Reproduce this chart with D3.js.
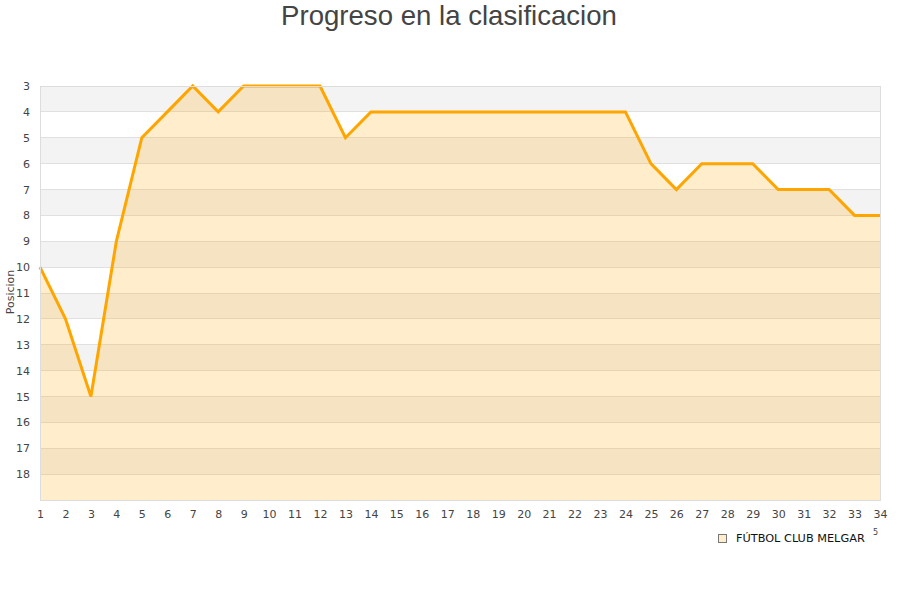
<!DOCTYPE html>
<html><head><meta charset="utf-8">
<script src="https://cdn.jsdelivr.net/npm/d3@7"></script>
<style>body{margin:0;background:#fff}</style>
</head><body><svg id="c" width="900" height="600"></svg>
<script>
const title = "Progreso en la clasificacion";
const yLabel = "Posicion";
const seriesName = "FÚTBOL CLUB MELGAR";
const jornadas = d3.range(1, 35);
const posiciones = [10,12,15,9,5,4,3,4,3,3,3,3,5,4,4,4,4,4,4,4,4,4,4,4,6,7,6,6,6,7,7,7,8,8];
const yTicks = [3,4,5,6,7,8,9,10,11,12,13,14,15,16,17,18];

const svg = d3.select("#c");
const m = {l:40, r:880, t:86, b:500};
const x = d3.scaleLinear().domain([1,34]).range([m.l, m.r]);
const y = d3.scaleLinear().domain([3,19]).range([m.t, m.b]);

// bands
const bands = d3.range(3,19);
svg.append("g").selectAll("rect").data(bands).join("rect")
  .attr("x", m.l).attr("width", m.r-m.l)
  .attr("y", d=>y(d)).attr("height", d=>y(d+1)-y(d))
  .attr("fill", d=> (d%2===1) ? "#f3f3f3" : "#ffffff");
// grid
svg.append("g").selectAll("line").data(d3.range(4,19)).join("line")
  .attr("x1", m.l).attr("x2", m.r).attr("y1", d=>y(d)).attr("y2", d=>y(d))
  .attr("stroke", "#e0e0e0").attr("stroke-width", 1).attr("shape-rendering","crispEdges");

const data = jornadas.map((j,i)=>({j, p:posiciones[i]}));
svg.append("path").datum(data)
  .attr("d", d3.area().x(d=>x(d.j)).y0(y(19)).y1(d=>y(d.p)))
  .attr("fill", "rgba(255,165,0,0.2)");
svg.append("path").datum(data)
  .attr("d", d3.line().x(d=>x(d.j)).y(d=>y(d.p)))
  .attr("fill", "none").attr("stroke", "#FFA500").attr("stroke-width", 3).attr("stroke-linejoin","miter");

// border
svg.append("rect").attr("x", m.l+0.5).attr("y", m.t+0.5).attr("width", m.r-m.l).attr("height", m.b-m.t)
  .attr("fill","none").attr("stroke","#dddddd").attr("stroke-width",1);

// y axis labels
const yAxis = d3.axisLeft(y).tickValues(yTicks).tickSize(0).tickPadding(10);
const gy = svg.append("g").attr("transform",`translate(${m.l},0)`).call(yAxis);
gy.select(".domain").remove();
gy.selectAll("text").attr("font-family","DejaVu Sans").attr("font-size",11).attr("fill","#444");

const xAxis = d3.axisBottom(x).tickValues(jornadas).tickSize(0).tickPadding(10).tickFormat(d3.format("d"));
const gx = svg.append("g").attr("transform",`translate(0,${m.b})`).call(xAxis);
gx.select(".domain").remove();
gx.selectAll("text").attr("font-family","DejaVu Sans").attr("font-size",11).attr("fill","#444");

svg.append("text").attr("x",449).attr("y",25).attr("text-anchor","middle")
  .attr("font-family","Liberation Sans").attr("font-size",27.6).attr("fill","#444").text(title);

svg.append("text").attr("transform","translate(14,292) rotate(-90)").attr("text-anchor","middle")
  .attr("font-family","DejaVu Sans").attr("font-size",11).attr("fill","#444").text(yLabel);

// legend
svg.append("rect").attr("x",718.5).attr("y",534.5).attr("width",8).attr("height",8)
  .attr("fill","#ffedcc").attr("stroke","#777").attr("stroke-width",1);
svg.append("text").attr("x",736).attr("y",542).attr("font-family","DejaVu Sans").attr("font-size",11.3)
  .attr("fill","#111").text(seriesName);
svg.append("text").attr("x",873).attr("y",535).attr("font-family","DejaVu Sans").attr("font-size",8)
  .attr("fill","#444").text("5");
</script></body></html>
